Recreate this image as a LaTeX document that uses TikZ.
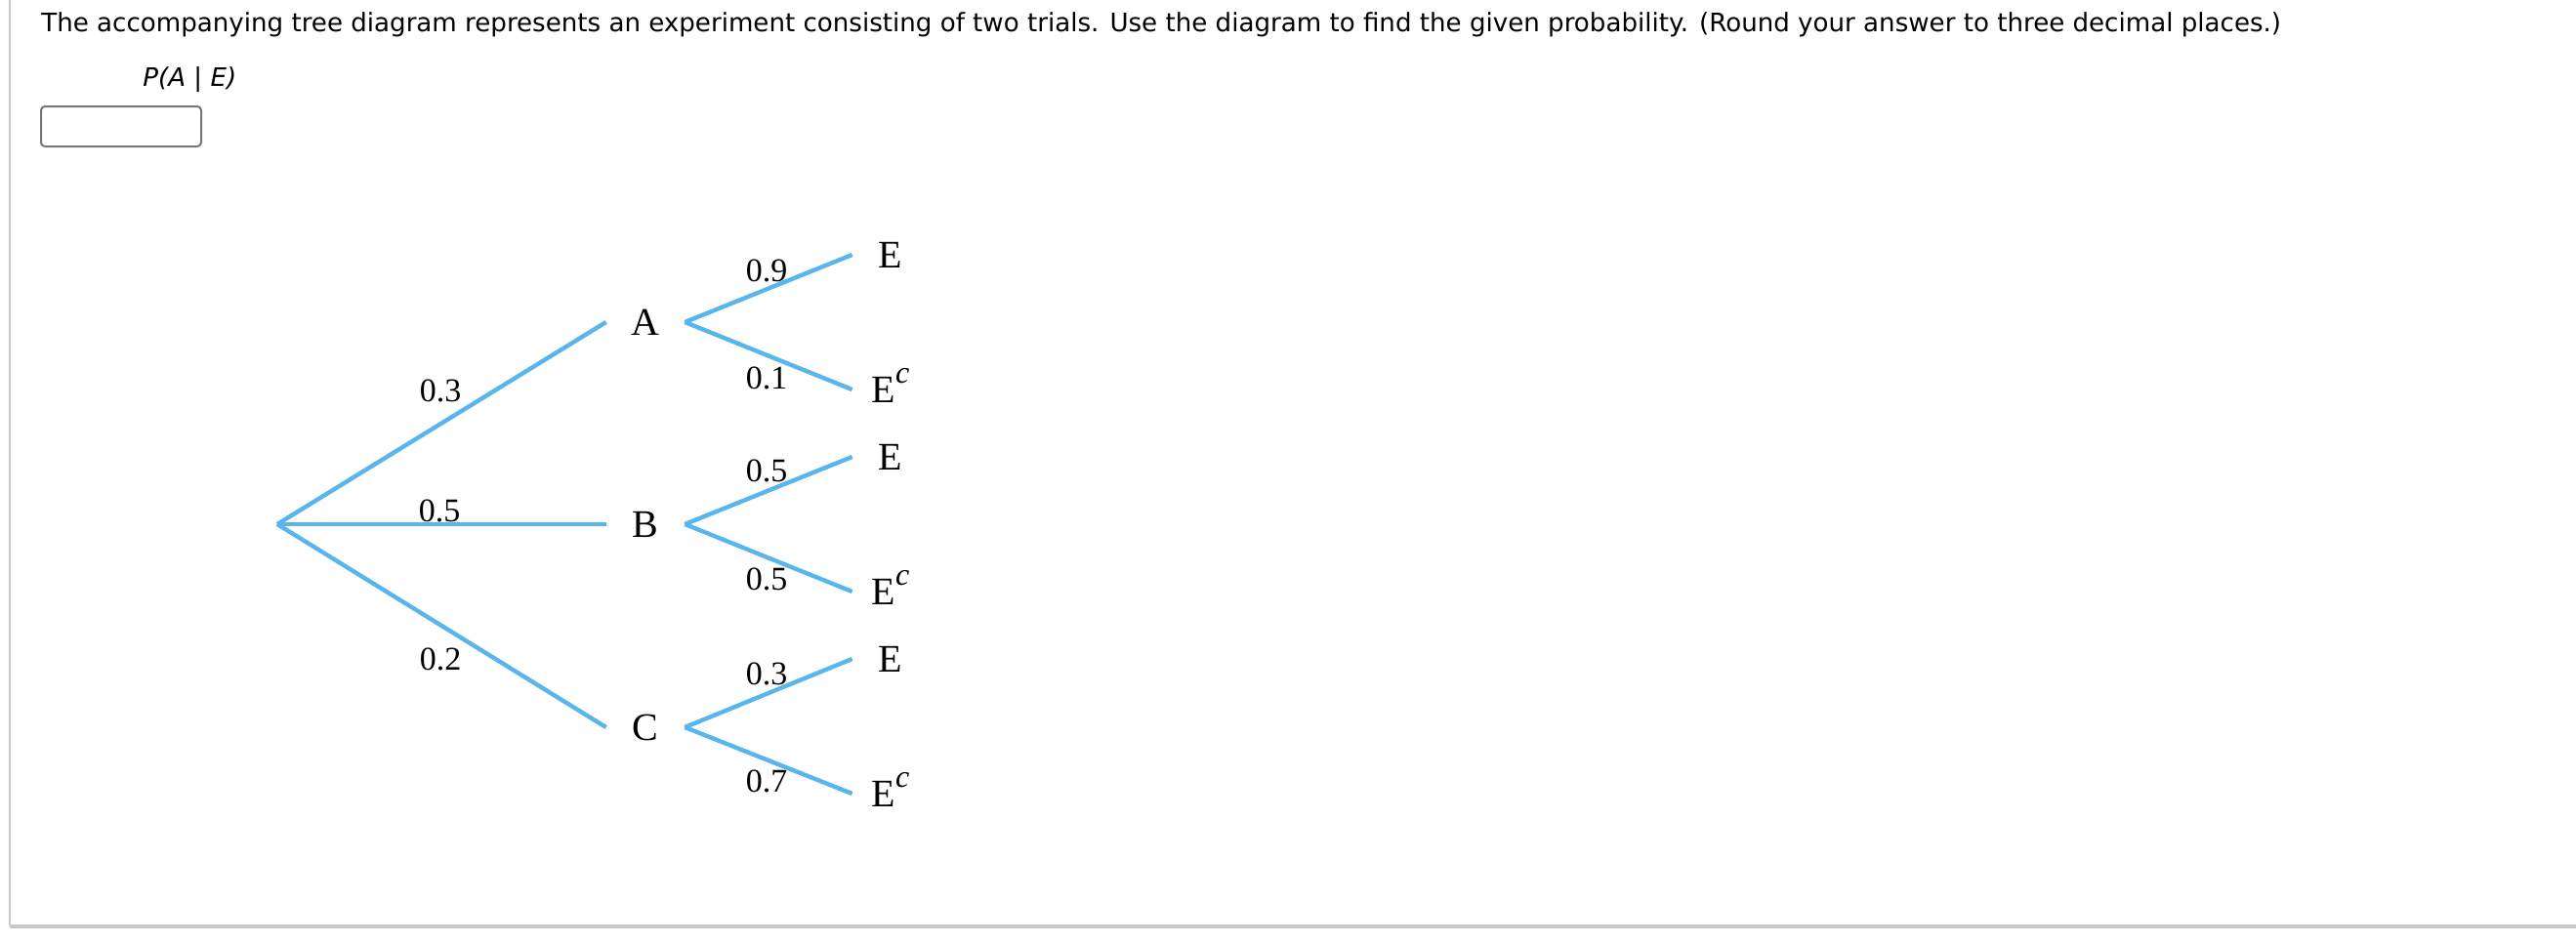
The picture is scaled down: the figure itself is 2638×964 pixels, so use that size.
\documentclass[tikz,border=0pt]{standalone}
\usepackage{fontspec}
\setmainfont{Liberation Serif}
\newfontfamily\uifont{DejaVu Sans}
\definecolor{branchblue}{RGB}{88,182,236}
\definecolor{framegray}{RGB}{200,200,200}
\definecolor{boxgray}{RGB}{120,120,120}
\begin{document}
\begin{tikzpicture}[x=0.5pt,y=-0.5pt,
  branch/.style={draw=branchblue, line width=2.2pt},
  evt/.style={inner sep=0pt, minimum width=40pt, text height=13.3pt, text depth=0pt, font=\fontsize{20}{20}\selectfont},
  leaf/.style={inner sep=0pt, minimum width=39pt, text height=13.3pt, text depth=0pt, font=\fontsize{20}{20}\selectfont},
  prob/.style={inner sep=0pt, text height=11.5pt, text depth=0pt, font=\fontsize{17}{17}\selectfont},
  ui/.style={inner sep=0pt, font=\uifont\fontsize{13.05}{15}\selectfont}]
\useasboundingbox (0,0) rectangle (2638,964);
\fill[white] (0,0) rectangle (2638,964);
% frame
\draw[draw=framegray, line width=1pt] (10,0) -- (10,948);
\fill[framegray] (10,947) rectangle (2638,951);
% question
\node[ui, anchor=base west] (q) at (42,32) {The accompanying tree diagram represents an experiment consisting of two trials. Use the diagram to find the given probability. (Round your answer to three decimal places.)};
\node[ui, anchor=base west] (pae) at (146,88) {\itshape P(A | E)};
\node[draw=boxgray, line width=1pt, rounded corners=2pt, minimum width=82pt, minimum height=20.5pt, inner sep=0pt, anchor=north west] (ans) at (41,108) {};
% tree
\coordinate (O) at (284,537);
\node[evt] (A) at (661,330) {A};
\node[evt] (B) at (661,537) {B};
\node[evt] (C) at (661,745) {C};
\node[leaf] (AE) at (912,261) {E};
\node[leaf] (AEc) at (912,399) {E\raisebox{0.5em}{\fontsize{16}{16}\selectfont\itshape c}};
\node[leaf] (BE) at (912,468) {E};
\node[leaf] (BEc) at (912,606) {E\raisebox{0.5em}{\fontsize{16}{16}\selectfont\itshape c}};
\node[leaf] (CE) at (912,675) {E};
\node[leaf] (CEc) at (912,813) {E\raisebox{0.5em}{\fontsize{16}{16}\selectfont\itshape c}};
% probabilities
\node[prob] (pA) at (451,400) {0.3};
\node[prob] (pB) at (450,523) {0.5};
\node[prob] (pC) at (451,675) {0.2};
\node[prob] (pAE) at (785,277) {0.9};
\node[prob] (pAEc) at (785,387) {0.1};
\node[prob] (pBE) at (785,482) {0.5};
\node[prob] (pBEc) at (785,593) {0.5};
\node[prob] (pCE) at (785,690) {0.3};
\node[prob] (pCEc) at (785,800) {0.7};
% branches
\draw[branch] (O) -- (A.west);
\draw[branch] (O) -- (B.west);
\draw[branch] (O) -- (C.west);
\draw[branch] (A.east) -- (AE.west);
\draw[branch] (A.east) -- (AEc.west);
\draw[branch] (B.east) -- (BE.west);
\draw[branch] (B.east) -- (BEc.west);
\draw[branch] (C.east) -- (CE.west);
\draw[branch] (C.east) -- (CEc.west);
\end{tikzpicture}
\end{document}
